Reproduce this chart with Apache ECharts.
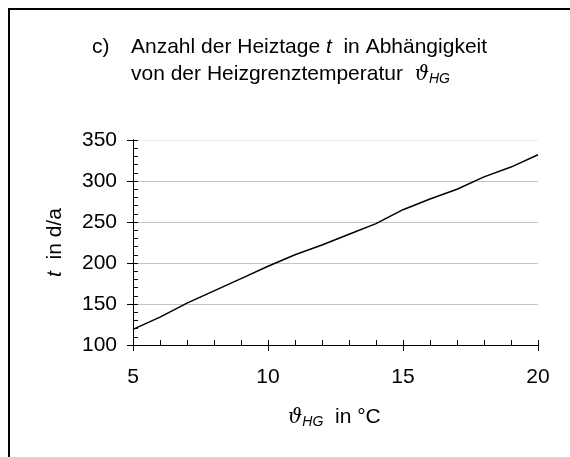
<!DOCTYPE html>
<html>
<head>
    <meta charset="utf-8">
    <title>Heiztage</title>
    <script src="https://cdn.jsdelivr.net/npm/echarts@6/dist/echarts.min.js"></script>
</head>
<body style="margin:0">
<div id="main" style="width: 570px;height:457px;"></div>
<script type="text/javascript">
    // Heizgrenztemperatur in °C
    var tempData = [5, 6, 7, 8, 9, 10, 11, 12, 13, 14, 15, 16, 17, 18, 19, 20];
    // Heiztage in d/a
    var daysData = [119, 134, 151, 166, 181, 196, 210, 222, 235, 248, 265, 278, 290, 305, 317, 332];
    var xTicks = [5, 10, 15, 20];
    var yTicks = [100, 150, 200, 250, 300, 350];

    var myChart = echarts.init(document.getElementById('main'));

    var font = 'Liberation Sans, Arial, sans-serif';
    var greek = {fontFamily: 'DejaVu Serif', fontStyle: 'italic', fontSize: 20};
    var sub = {fontFamily: font, fontStyle: 'italic', fontSize: 14, padding: [10, 0, 0, 0]};

    var points = [];
    for (var i = 0; i < tempData.length; i++) {
        points.push([tempData[i], daysData[i]]);
    }

    option = {
        animation: false,
        backgroundColor: '#fff',
        grid: {left: 133, right: 32, top: 140, bottom: 112},
        xAxis: [
            {
                type: 'value', position: 'bottom',
                min: xTicks[0], max: xTicks[xTicks.length - 1], interval: 5,
                axisLine: {lineStyle: {color: '#000', width: 1}},
                axisTick: {inside: false, length: 6, lineStyle: {color: '#000'}},
                axisLabel: {color: '#000', fontFamily: font, fontSize: 21, margin: 22},
                splitLine: {show: false}
            },
            {
                type: 'value', position: 'bottom',
                min: 5, max: 20, interval: 1,
                axisLine: {lineStyle: {color: '#000', width: 1}},
                axisTick: {inside: true, length: 5, lineStyle: {color: '#000'}},
                axisLabel: {show: false},
                splitLine: {show: false}
            }
        ],
        yAxis: [
            {
                type: 'value', position: 'left',
                min: yTicks[0], max: yTicks[yTicks.length - 1], interval: 50,
                axisLine: {show: true, lineStyle: {color: '#000', width: 1}},
                axisTick: {show: true, inside: false, length: 6, lineStyle: {color: '#000'}},
                axisLabel: {color: '#000', fontFamily: font, fontSize: 21, margin: 16},
                splitLine: {show: true, lineStyle: {color: ['#c4c4c4', '#c4c4c4', '#c4c4c4', '#c4c4c4', '#c4c4c4', '#ededed'], width: 1}}
            },
            {
                type: 'value', position: 'left',
                min: 100, max: 350, interval: 10,
                axisLine: {show: true, lineStyle: {color: '#000', width: 1}},
                axisTick: {show: true, inside: true, length: 5, lineStyle: {color: '#000'}},
                axisLabel: {show: false},
                splitLine: {show: false}
            }
        ],
        series: [
            {
                type: 'line',
                xAxisIndex: 0,
                yAxisIndex: 0,
                data: points,
                showSymbol: false,
                lineStyle: {color: '#000', width: 1.5},
                z: 5
            }
        ],
        graphic: [
            {
                type: 'rect', silent: true,
                shape: {x: 9, y: 9, width: 620, height: 520},
                style: {fill: 'none', stroke: '#000', lineWidth: 2}
            },
            {
                type: 'text', left: 92, top: 37,
                style: {
                    text: 'c)',
                    font: '21px ' + font, fill: '#000'
                }
            },
            {
                type: 'text', left: 131, top: 37,
                style: {
                    text: 'Anzahl der Heiztage {t|t}  in Abhängigkeit',
                    font: '21px ' + font, fill: '#000',
                    rich: {t: {fontFamily: font, fontStyle: 'italic', fontSize: 21}}
                }
            },
            {
                type: 'text', left: 131, top: 64,
                style: {
                    text: 'von der Heizgrenztemperatur  {g|ϑ}{s|HG}',
                    font: '21px ' + font, fill: '#000',
                    rich: {g: greek, s: sub}
                }
            },
            {
                type: 'text', left: 288, top: 407,
                style: {
                    text: '{g|ϑ}{s|HG}  in °C',
                    font: '21px ' + font, fill: '#000',
                    rich: {g: greek, s: sub}
                }
            },
            {
                type: 'text', x: 45, y: 277, rotation: Math.PI / 2,
                style: {
                    text: '{t|t}  in d/a',
                    font: '21px ' + font, fill: '#000',
                    rich: {t: {fontFamily: font, fontStyle: 'italic', fontSize: 21}}
                }
            }
        ]
    };

    myChart.setOption(option);
</script>
</body>
</html>
